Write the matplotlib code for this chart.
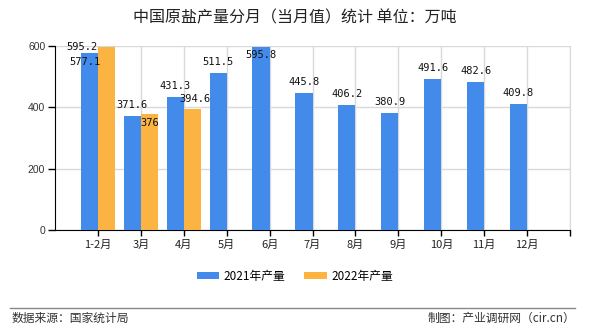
import matplotlib
matplotlib.use("Agg")
import matplotlib.pyplot as plt
import numpy as np

plt.rcParams['font.family'] = ['Noto Sans CJK SC', 'DejaVu Sans']

title = "中国原盐产量分月（当月值）统计 单位：万吨"
categories = ["1-2月", "3月", "4月", "5月", "6月", "7月", "8月", "9月", "10月", "11月", "12月"]
s2021_name = "2021年产量"
s2022_name = "2022年产量"
s2021 = [577.1, 371.6, 431.3, 511.5, 595.8, 445.8, 406.2, 380.9, 491.6, 482.6, 409.8]
s2022 = [595.2, 376, 394.6]
yticks = [0, 200, 400, 600]
source_text = "数据来源：国家统计局"
credit_text = "制图：产业调研网（cir.cn）"

c2021 = "#428BEA"
c2022 = "#FBB342"

fig = plt.figure(figsize=(5.9, 3.3), dpi=100)
ax = fig.add_axes([0.0932, 0.303, 0.873, 0.559])

x = np.arange(len(categories))
w = 0.4
b1 = ax.bar(x[:len(s2021)] - w / 2, s2021, width=w, color=c2021, zorder=3, label=s2021_name)
b2 = ax.bar(x[:len(s2022)] + w / 2, s2022, width=w, color=c2022, zorder=3, label=s2022_name)

ax.set_xlim(-1, len(categories))
ax.set_ylim(0, 600)
ax.set_yticks(yticks)
ax.set_yticklabels([str(t) for t in yticks], fontsize=7.5, color="#333333", family="Liberation Sans")
ax.tick_params(axis='y', length=5, width=1, color="#000000", pad=2)
ax.tick_params(axis='x', length=4, width=1, color="#000000", pad=3)
ax.set_xticks(list(x) + [len(categories)])
ax.set_xticklabels(categories + [""], fontsize=8, color="#222222")

ax.grid(True, color="#d9d9d9", linewidth=1, zorder=0)
ax.spines["top"].set_visible(False)
ax.spines["right"].set_color("#d9d9d9")
ax.spines["left"].set_color("#000000")
ax.spines["bottom"].set_color("#000000")

lab_kw = dict(ha="center", va="center", fontsize=7.5, family="DejaVu Sans Mono", color="#111111", zorder=5,
              textcoords="offset points")
# 2021 labels
for i, v in enumerate(s2021):
    xi = x[i] - w / 2
    if i == 0:
        off = (-3, -6.5)
    elif v > 580:
        off = (0, -6)
    else:
        off = (0, 8)
    ax.annotate(f"{v:g}", (xi, v), xytext=off, **lab_kw)
# 2022 labels
for i, v in enumerate(s2022):
    xi = x[i] + w / 2
    if i == 0:
        off = (-18, 0)
    elif i == 1:
        off = (0, -6)
    else:
        off = (2, 7)
    ax.annotate(f"{v:g}", (xi, v), xytext=off, **lab_kw)

fig.legend(handles=[b1, b2], labels=[s2021_name, s2022_name], loc="center",
           bbox_to_anchor=(0.5, 0.163), ncol=2, frameon=False, fontsize=8.5,
           handlelength=1.9, handleheight=0.6, columnspacing=1.6, handletextpad=0.4)

fig.text(0.5, 0.945, title, ha="center", va="center", fontsize=11.5, color="#222222", weight="medium")

fig.add_artist(plt.Line2D([0.017, 0.975], [0.067, 0.067], color="#888888", linewidth=1, transform=fig.transFigure))
fig.text(0.02, 0.035, source_text, ha="left", va="center", fontsize=8.5, color="#333333")
fig.text(0.975, 0.035, credit_text, ha="right", va="center", fontsize=8.5, color="#333333")

fig.savefig("out.png", dpi=100)
